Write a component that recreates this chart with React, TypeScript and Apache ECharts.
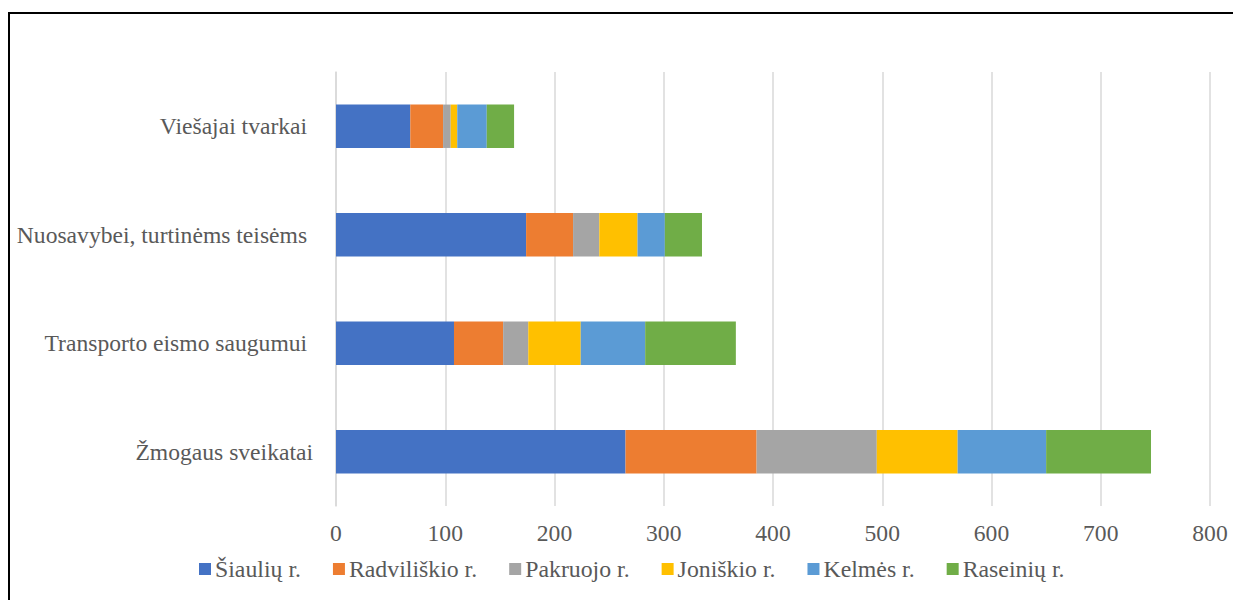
import React, { useEffect, useRef } from "react";
import * as echarts from "echarts";

const categories = [
  "Žmogaus sveikatai",
  "Transporto eismo saugumui ",
  "Nuosavybei, turtinėms teisėms ",
  "Viešajai tvarkai ",
];
const seriesNames = [
  "Šiaulių r.",
  "Radviliškio r.",
  "Pakruojo r.",
  "Joniškio r.",
  "Kelmės r.",
  "Raseinių r.",
];
const siauliu = [265, 108, 174, 68];
const radviliskio = [120, 45, 43, 30];
const pakruojo = [110, 23, 24, 7];
const joniskio = [74, 48, 35, 6];
const kelmes = [81, 59, 25, 27];
const raseiniu = [96, 83, 34, 25];
const seriesValues = [siauliu, radviliskio, pakruojo, joniskio, kelmes, raseiniu];
const colors = ["#4472C4", "#ED7D31", "#A5A5A5", "#FFC000", "#5B9BD5", "#70AD47"];
const xTicks = [0, 800, 100];

export default function App() {
  const ref = useRef<HTMLDivElement>(null);
  useEffect(() => {
    if (!ref.current) return;
    const chart = echarts.init(ref.current, null, { renderer: "svg" });
    const font = "Liberation Serif";
    chart.setOption({
      animation: false,
      color: colors,
      textStyle: { fontFamily: font },
      graphic: [
        {
          type: "rect",
          shape: { x: 9, y: 13, width: 1400, height: 800 },
          style: { fill: "none", stroke: "#000", lineWidth: 2 },
          silent: true,
        },
      ],
      grid: { left: 336, right: 23, top: 72, bottom: 94, containLabel: false },
      legend: {
        left: 194,
        top: 552,
        itemWidth: 12,
        itemHeight: 12,
        itemGap: 32,
        icon: "rect",
        data: seriesNames,
        textStyle: { color: "#595959", fontSize: 23.8, fontFamily: font, padding: [0, 0, 0, -1] },
      },
      xAxis: {
        type: "value",
        min: xTicks[0],
        max: xTicks[1],
        interval: xTicks[2],
        axisLine: { show: false },
        axisTick: { show: false },
        splitLine: { lineStyle: { color: "#d9d9d9", width: 1.5 } },
        axisLabel: { color: "#595959", fontSize: 23.6, fontFamily: font, margin: 15 },
      },
      yAxis: {
        type: "category",
        data: categories,
        axisLine: { show: true, lineStyle: { color: "#d9d9d9", width: 1.5 } },
        axisTick: { show: false },
        axisLabel: { color: "#595959", fontSize: 23.6, fontFamily: font, margin: 23 },
      },
      series: seriesNames.map((name, i) => ({
        name,
        type: "bar",
        stack: "total",
        barWidth: "40%",
        data: seriesValues[i],
        itemStyle: { color: colors[i] },
      })),
    });
    return () => chart.dispose();
  }, []);
  return (
    <div
      ref={ref}
      style={{ position: "fixed", left: 0, top: 0, width: 1233, height: 600, background: "#fff" }}
    />
  );
}
